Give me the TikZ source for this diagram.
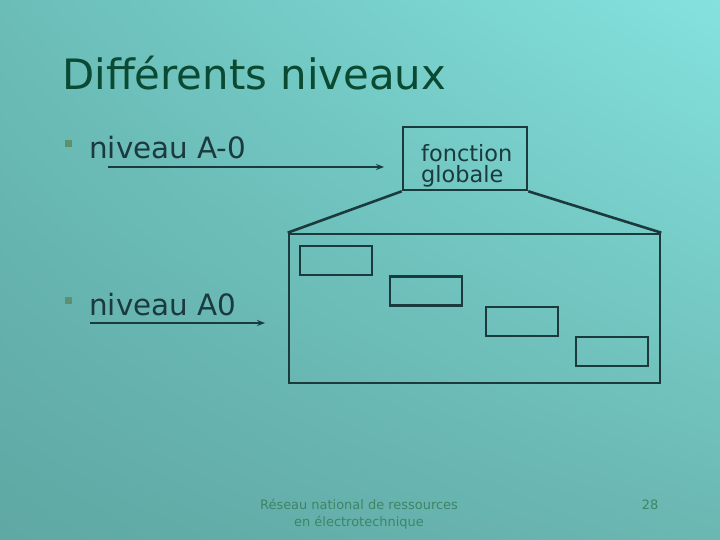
\documentclass[tikz,border=0pt]{standalone}
\usepackage{fontspec}
\setmainfont{DejaVu Sans}
\usetikzlibrary{arrows.meta,shadings}
\definecolor{bgTL}{HTML}{6BBDB8}
\definecolor{bgTR}{HTML}{84E2DE}
\definecolor{bgBL}{HTML}{5FA8A4}
\definecolor{bgBR}{HTML}{6BB7B2}
\definecolor{titlecol}{HTML}{0B4A32}
\definecolor{inkcol}{HTML}{1B3A3E}
\definecolor{bulletcol}{HTML}{5E9070}
\definecolor{footcol}{HTML}{3E8466}
\tikzset{
  ink/.style={draw=inkcol, line width=2.6pt},
  arr/.style={draw=inkcol, line width=2pt, -{Stealth[length=8pt,width=6pt]}},
  bullettxt/.style={anchor=base west, text=inkcol, font=\fontsize{29.5}{32}\selectfont, inner sep=0pt},
  smallbox/.style={ink, minimum width=72bp, minimum height=29bp, inner sep=0pt},
  bulletsq/.style={fill=bulletcol, minimum size=7bp, inner sep=0pt},
  foot/.style={text=footcol, font=\fontsize{13}{17}\selectfont, inner sep=0pt}
}
\begin{document}
\begin{tikzpicture}[x=1bp,y=-1bp]
\useasboundingbox (0,0) rectangle (720,540);
\shade[upper left=bgTL, upper right=bgTR, lower left=bgBL, lower right=bgBR] (0,0) rectangle (720,540);
% title
\node[anchor=base west, text=titlecol, font=\fontsize{42}{46}\selectfont, inner sep=0pt] (title) at (62,90) {Différents niveaux};
% bullets
\node[bulletsq] (b1) at (68.5,144) {};
\node[bullettxt] (t1) at (89,159) {niveau A-0};
\node[bulletsq] (b2) at (68.5,300) {};
\node[bullettxt] (t2) at (89,315) {niveau A0};
% fonction globale box
\node[ink, minimum width=124bp, minimum height=63bp, inner sep=0pt] (fg) at (465,158.5) {};
\node[anchor=base west, align=left, text=inkcol, font=\fontsize{22.5}{22}\selectfont, inner sep=0pt] (fgtxt) at (421,183) {fonction\\globale};
% arrows
\coordinate (a1s) at (108,167);
\coordinate (a1e) at (384,167);
\draw[arr] (a1s) -- (a1e);
\coordinate (a2s) at (90,323);
\coordinate (a2e) at (265,323);
\draw[arr] (a2s) -- (a2e);
% big box
\node[ink, minimum width=371bp, minimum height=149bp, inner sep=0pt] (big) at (474.5,308.5) {};
\draw[ink] (fg.south west) -- (big.north west);
\draw[ink] (fg.south east) -- (big.north east);
% inner boxes
\node[smallbox] (s1) at (336,260.5) {};
\node[smallbox] (s2) at (426,291) {};
\node[smallbox] (s3) at (522,321.5) {};
\node[smallbox] (s4) at (612,351.5) {};
% footer
\node[foot, align=center, anchor=base] (ft) at (359,526) {Réseau national de ressources\\en électrotechnique};
\node[foot, anchor=base] (pg) at (650,509) {28};
\end{tikzpicture}
\end{document}
